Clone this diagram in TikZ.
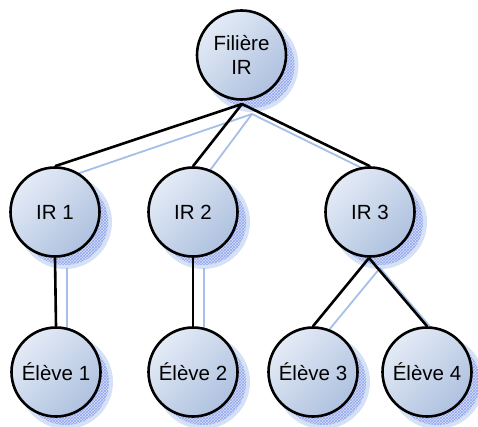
\documentclass[tikz,border=0pt]{standalone}
\usepackage{fontspec}
\setmainfont{Liberation Sans}
\usetikzlibrary{patterns}
\definecolor{lightc}{RGB}{228,235,246}
\definecolor{darkc}{RGB}{174,193,223}
\definecolor{shadc}{RGB}{150,180,228}
\tikzset{
  circ/.style={circle, draw=black, line width=2.6pt, minimum size=89pt, inner sep=0pt,
    top color=lightc, bottom color=darkc, shading angle=45,
    font=\fontsize{20.5}{24}\selectfont, align=center, text=black},
  conn/.style={line width=2.6pt, draw=black},
  shad/.style={fill=shadc, opacity=0.4},
  shadin/.style={pattern=crosshatch, pattern color=shadc!70!blue},
  shadline/.style={draw=shadc, line width=1.8pt, opacity=0.85}
}
\begin{document}
\begin{tikzpicture}[x=1pt,y=-1pt]
\useasboundingbox (0,0) rectangle (478,427);
% shadows of the nodes
\foreach \x/\y in {241.5/55, 55/212, 193/212, 370/212, 56/372, 193/372, 313/372, 427/372}{
  \fill[shad] (\x+10,\y+10) circle (47);
  \fill[shadin,opacity=0.6] (\x+10,\y+10) circle (43);
}
% shadow connectors
\draw[shadline] (252,114) -- (68,177);
\draw[shadline] (252,114) -- (205,177);
\draw[shadline] (252,114) -- (380,177);
\draw[shadline] (67,268) -- (67,336);
\draw[shadline] (204,268) -- (204,336);
\draw[shadline] (380,268) -- (324,336);
\draw[shadline] (380,268) -- (438,336);
% nodes
\node[circ] (f) at (241.5,55) {Filière\\IR};
\node[circ] (ir1) at (55,212) {IR 1};
\node[circ] (ir2) at (193,212) {IR 2};
\node[circ] (ir3) at (370,212) {IR 3};
\node[circ] (e1) at (56,372) {Élève 1};
\node[circ] (e2) at (193,372) {Élève 2};
\node[circ] (e3) at (313,372) {Élève 3};
\node[circ] (e4) at (427,372) {Élève 4};
\coordinate (fs) at (242,104);
\coordinate (ir3s) at (369,258);
% connectors
\draw[conn] (fs) -- (ir1.north);
\draw[conn] (fs) -- (ir2.north);
\draw[conn] (fs) -- (ir3.north);
\draw[conn] (ir1.south) -- (e1.north);
\draw[conn] (ir2.south) -- (e2.north);
\draw[conn] (ir3s) -- (e3.north);
\draw[conn] (ir3s) -- (e4.north);
\end{tikzpicture}
\end{document}
